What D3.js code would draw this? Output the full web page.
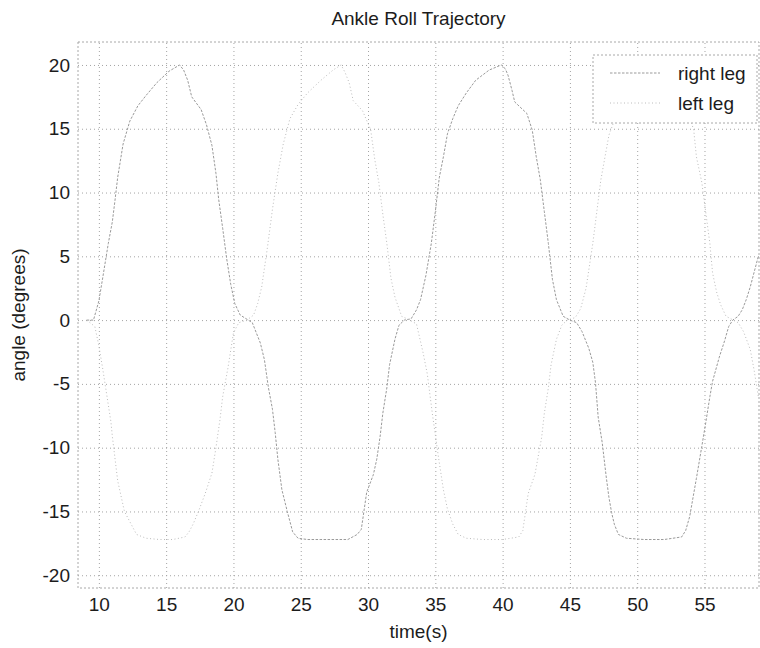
<!DOCTYPE html>
<html>
<head>
<meta charset="utf-8">
<script src="https://cdn.jsdelivr.net/npm/d3@7"></script>
<style>
  body { margin: 0; background: #fff; }
  svg { font-family: "Liberation Sans", Arial, sans-serif; }
</style>
</head>
<body>
<svg id="ankleRoll"></svg>
<script>
// ankle roll values (time in s, angle in degrees)
const rightLegTime = [9.1, 9.6, 10.0, 10.3, 10.7, 11.0, 11.2, 11.4, 11.8, 12.3, 12.9, 13.5, 14.3, 15.2, 16.0,
  16.3, 16.6, 16.9, 17.6, 18.0, 18.4, 18.7, 18.9, 19.2, 19.5, 19.8, 20.1, 20.5, 21.4, 22.0, 22.3, 22.6,
  22.9, 23.1, 23.3, 23.6, 24.0, 24.4, 24.8, 25.5, 26.5, 27.5, 28.5, 29.2, 29.5, 29.9, 30.4, 30.65, 30.9,
  31.1, 31.4, 31.6, 32.0, 32.3, 32.7, 33.2, 33.6, 33.9, 34.3, 34.7, 35.0, 35.3, 35.6, 35.9, 36.3, 36.7,
  37.3, 38.0, 39.0, 39.9, 40.2, 40.4, 40.7, 40.9, 41.3, 41.8, 42.2, 42.5, 42.8, 43.1, 43.4, 43.7, 44.0,
  44.5, 45.0, 45.5, 45.9, 46.4, 46.7, 46.9, 47.1, 47.4, 47.7, 47.9, 48.1, 48.3, 48.6, 49.2, 50.5, 52.0,
  53.3, 53.6, 53.9, 54.1, 54.4, 54.8, 55.1, 55.4, 55.6, 56.1, 56.5, 56.8, 57.1, 57.5, 57.8, 58.1, 58.4,
  58.7, 59.0];
const rightLegAngle = [0, 0, 1.5, 3.4, 6.0, 7.7, 9.4, 11.2, 13.8, 15.6, 16.8, 17.6, 18.6, 19.5, 20.0,
  19.6, 18.8, 17.5, 16.5, 15.3, 13.7, 11.5, 9.5, 7.2, 4.8, 2.8, 1.3, 0.4, -0.2, -1.8, -3.1, -5.3,
  -7.0, -8.8, -10.9, -13.3, -15.0, -16.6, -17.1, -17.2, -17.2, -17.2, -17.2, -16.8, -16.4, -13.5, -12.1, -10.9, -9.1,
  -7.3, -5.3, -3.5, -1.5, -0.4, 0, 0.1, 0.8, 1.6, 3.5, 6.0, 8.5, 11.2, 12.8, 14.6, 15.8, 16.8,
  17.8, 18.8, 19.6, 20.0, 19.7, 19.2, 18.0, 17.1, 16.7, 16.2, 14.9, 12.8, 11.0, 8.5, 6.0, 3.2, 1.6,
  0.3, 0, -0.2, -0.9, -2.2, -3.3, -4.9, -7.6, -9.6, -12.3, -13.9, -15.1, -16.0, -16.8, -17.1, -17.2, -17.2,
  -17.0, -16.5, -15.4, -14.2, -12.4, -9.9, -8.0, -6.0, -4.8, -2.9, -1.6, -0.5, 0, 0.3, 0.8, 1.6, 2.6,
  3.8, 5.0];

const leftLegTime = [9.1, 9.7, 10.0, 10.3, 10.9, 11.0, 11.4, 11.9, 12.8, 13.5, 14.5, 15.5, 16.4, 16.7,
  17.0, 17.4, 17.9, 18.4, 18.7, 19.0, 19.2, 19.6, 20.0, 20.4, 21.0, 21.5, 21.8, 22.1, 22.5, 22.9, 23.3,
  23.7, 24.2, 24.8, 25.5, 26.5, 27.4, 28.0, 28.3, 28.6, 28.9, 29.6, 30.2, 30.5, 30.8, 31.1, 31.4, 31.7,
  32.0, 32.5, 33.1, 33.6, 34.1, 34.4, 34.8, 35.2, 35.6, 35.9, 36.3, 36.7, 37.3, 38.5, 40.0, 41.2, 41.5,
  41.9, 42.4, 42.9, 43.1, 43.4, 43.6, 44.0, 44.4, 44.8, 45.4, 45.8, 46.2, 46.7, 47.3, 47.9, 48.7, 49.4,
  50.2, 51.1, 51.9, 52.3, 52.6, 52.9, 53.8, 54.2, 54.4, 54.8, 55.1, 55.4, 55.6, 55.9, 56.2, 56.6, 57.5,
  57.9, 58.4, 58.7, 59.0];
const leftLegAngle = [0, -0.5, -2.0, -3.9, -8.0, -9.1, -12.6, -15.0, -16.8, -17.1, -17.2, -17.2, -17.0, -16.6,
  -16.0, -15.0, -13.6, -12.0, -10.0, -7.8, -6.0, -3.7, -1.0, -0.2, 0, 0.4, 1.3, 2.6, 5.5, 8.7, 11.5,
  13.8, 15.8, 16.9, 17.8, 18.8, 19.6, 20.0, 19.4, 18.6, 17.2, 16.4, 14.9, 12.6, 10.8, 8.3, 6.0, 3.3,
  1.8, 0.3, 0, -0.3, -2.6, -4.2, -7.5, -10.5, -13.3, -14.8, -16.0, -16.8, -17.1, -17.2, -17.2, -17.0, -16.5,
  -13.6, -12.1, -9.2, -7.3, -5.3, -3.5, -1.5, -0.4, 0, 0.2, 0.9, 2.5, 6.0, 11.0, 14.5, 16.8, 17.9,
  18.9, 19.6, 20.0, 19.4, 18.2, 17.1, 16.2, 14.9, 12.8, 10.8, 8.4, 6.0, 3.7, 2.2, 1.2, 0.3, -0.2,
  -0.9, -2.3, -4.0, -6.0];

const xTicks = [10, 15, 20, 25, 30, 35, 40, 45, 50, 55];
const yTicks = [-20, -15, -10, -5, 0, 5, 10, 15, 20];
const xLimits = [8.45, 59.05];
const yLimits = [-21, 21.8];
const seriesNames = ['right leg', 'left leg'];

class DrawAnkleRoll {

  constructor(container) {
    this.margin = {};
    this.width = 0;
    this.height = 0;
    this.setSize();
    this.chart;

    const data = [
      { name: seriesNames[0], pts: rightLegTime.map((t, i) => ({ t, v: rightLegAngle[i] })),
        strokeColor: '#9a9a9a', strokeWidth: 1, dash: '2.5,1.5' },
      { name: seriesNames[1], pts: leftLegTime.map((t, i) => ({ t, v: leftLegAngle[i] })),
        strokeColor: '#bcbcbc', strokeWidth: 1, dash: '1,2.5' }
    ];

    const scale = this.scaleFunc();
    this.drawChart(container);
    this.drawAxis(scale.x, scale.y);

    const line = d3.line()
      .x(d => scale.x(d.t))
      .y(d => scale.y(d.v));
    data.forEach(s => this.drawPath(s, line));

    this.drawLegend(data);
    this.drawLabels();
  }

  setSize() {
    this.margin = { top: 42, right: 1, bottom: 60, left: 78 };
    this.width = 760 - this.margin.left - this.margin.right;
    this.height = 648 - this.margin.top - this.margin.bottom;
  }

  scaleFunc() {
    const x = d3.scaleLinear().domain(xLimits).range([0, this.width]);
    const y = d3.scaleLinear().domain(yLimits).range([this.height, 0]);
    return { x, y };
  }

  drawChart(container) {
    this.svg = d3.select(container)
      .attr('width', 760)
      .attr('height', 648);
    this.chart = this.svg.append('g')
      .attr('transform', 'translate(' + this.margin.left + ',' + this.margin.top + ')');
  }

  //x、y轴 + 点状网格
  drawAxis(x, y) {
    const gx = this.chart.append('g')
      .attr('transform', 'translate(0,' + this.height + ')')
      .call(d3.axisBottom(x).tickValues(xTicks).tickFormat(d => String(d))
        .tickSize(-this.height).tickPadding(10));
    const gy = this.chart.append('g')
      .call(d3.axisLeft(y).tickValues(yTicks).tickFormat(d => String(d))
        .tickSize(-this.width).tickPadding(8));

    [gx, gy].forEach(g => {
      g.select('.domain').remove();
      g.selectAll('.tick line')
        .attr('stroke', '#a4a4a4')
        .attr('stroke-dasharray', '1,3');
      g.selectAll('.tick text')
        .attr('fill', '#1c1c1c')
        .style('font-size', '19px');
    });

    this.chart.append('rect')
      .attr('width', this.width)
      .attr('height', this.height)
      .attr('fill', 'none')
      .attr('stroke', '#a8a8a8')
      .attr('stroke-dasharray', '2,2');
  }

  drawPath(s, line) {
    this.chart.append('path')
      .datum(s.pts)
      .attr('d', line)
      .attr('fill', 'none')
      .attr('stroke', s.strokeColor)
      .attr('stroke-linejoin', 'round')
      .attr('stroke-width', s.strokeWidth)
      .attr('stroke-dasharray', s.dash);
  }

  drawLegend(data) {
    const lg = this.svg.append('g').attr('transform', 'translate(593,55)');
    lg.append('rect')
      .attr('width', 164)
      .attr('height', 68)
      .attr('fill', '#fff')
      .attr('stroke', '#a8a8a8')
      .attr('stroke-dasharray', '2,2');
    data.forEach((s, i) => {
      const yy = 18 + i * 30;
      lg.append('line')
        .attr('x1', 17).attr('x2', 67)
        .attr('y1', yy).attr('y2', yy)
        .attr('stroke', s.strokeColor)
        .attr('stroke-dasharray', s.dash);
      lg.append('text')
        .attr('x', 85)
        .attr('y', yy + 7)
        .attr('fill', '#1c1c1c')
        .style('font-size', '19px')
        .text(s.name);
    });
  }

  drawLabels() {
    const cx = this.margin.left + this.width / 2;
    this.svg.append('text')
      .attr('x', cx).attr('y', 25)
      .attr('text-anchor', 'middle')
      .attr('fill', '#1c1c1c')
      .style('font-size', '19px')
      .text('Ankle Roll Trajectory');
    this.svg.append('text')
      .attr('x', cx).attr('y', 638)
      .attr('text-anchor', 'middle')
      .attr('fill', '#1c1c1c')
      .style('font-size', '19px')
      .text('time(s)');
    this.svg.append('text')
      .attr('transform', 'translate(25,' + (this.margin.top + this.height / 2) + ') rotate(-90)')
      .attr('text-anchor', 'middle')
      .attr('fill', '#1c1c1c')
      .style('font-size', '19px')
      .text('angle (degrees)');
  }
}

new DrawAnkleRoll('#ankleRoll');
</script>
</body>
</html>
